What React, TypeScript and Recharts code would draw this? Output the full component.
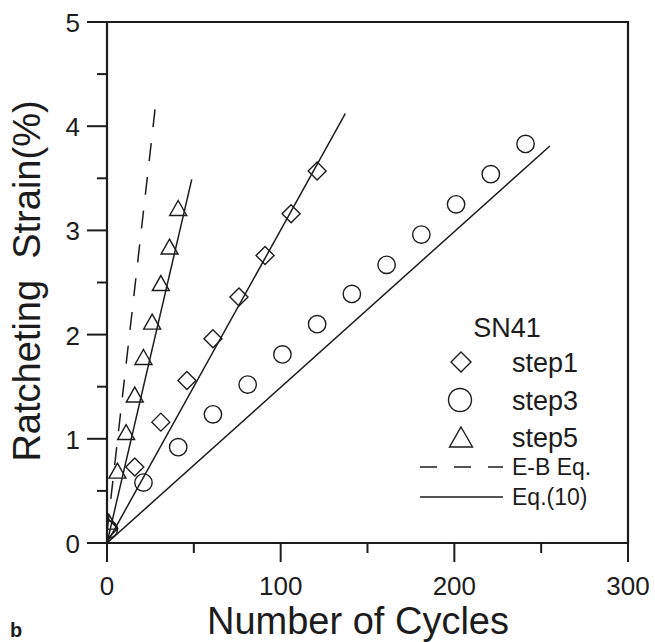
import React from 'react';
import { ComposedChart, XAxis, YAxis, Line, Scatter, Legend, ReferenceArea } from 'recharts';

// ---- data ----
const step1Cycles = [1, 16, 31, 46, 61, 76, 91, 106, 121];
const step1Strain = [0.14, 0.73, 1.16, 1.56, 1.96, 2.36, 2.76, 3.16, 3.57];

const step3Cycles = [1, 21, 41, 61, 81, 101, 121, 141, 161, 181, 201, 221, 241];
const step3Strain = [0.13, 0.58, 0.92, 1.235, 1.52, 1.81, 2.1, 2.39, 2.67, 2.96, 3.25, 3.54, 3.83];

const step5Cycles = [1, 6, 11, 16, 21, 26, 31, 36, 41];
const step5Strain = [0.2, 0.69, 1.06, 1.42, 1.78, 2.12, 2.49, 2.84, 3.21];

const ebCycles = [0, 28.6];
const ebStrain = [0.1, 4.3];
const eq10Step5Cycles = [0, 48.8];
const eq10Step5Strain = [0, 3.49];
const eq10Step1Cycles = [0, 137.2];
const eq10Step1Strain = [0, 4.12];
const eq10Step3Cycles = [0, 255];
const eq10Step3Strain = [0, 3.81];

const xTicks = [0, 50, 100, 150, 200, 250, 300];
const xMajorTicks = [0, 100, 200, 300];
const yTicks = [0, 0.5, 1, 1.5, 2, 2.5, 3, 3.5, 4, 4.5, 5];
const yMajorTicks = [0, 1, 2, 3, 4, 5];

const xTitle = 'Number of Cycles';
const yTitle = 'Ratcheting  Strain(%)';
const legendTitle = 'SN41';
const markerNames = ['step1', 'step3', 'step5'];
const lineNames = ['E-B Eq.', 'Eq.(10)'];
const panelLetter = 'b';

const zip = (xs: number[], ys: number[]) => xs.map((x, i) => ({ x, y: ys[i] }));

const step1Data = zip(step1Cycles, step1Strain);
const step3Data = zip(step3Cycles, step3Strain);
const step5Data = zip(step5Cycles, step5Strain);
const ebData = zip(ebCycles, ebStrain);
const eq5Data = zip(eq10Step5Cycles, eq10Step5Strain);
const eq1Data = zip(eq10Step1Cycles, eq10Step1Strain);
const eq3Data = zip(eq10Step3Cycles, eq10Step3Strain);

// ---- styles ----
const FONT = '"Liberation Sans", Arial, Helvetica, sans-serif';
const INK = '#1c1c1c';

const Diamond = (props: any) => {
  const { cx, cy } = props;
  const h = 9;
  return (
    <path
      d={`M${cx},${cy - h}L${cx + h},${cy}L${cx},${cy + h}L${cx - h},${cy}Z`}
      fill="none"
      stroke={INK}
      strokeWidth={1.4}
    />
  );
};

const Circ = (props: any) => {
  const { cx, cy } = props;
  return <circle cx={cx} cy={cy} r={8.7} fill="none" stroke={INK} strokeWidth={1.4} />;
};

const Tri = (props: any) => {
  const { cx, cy } = props;
  return (
    <path
      d={`M${cx},${cy - 8}L${cx + 8.5},${cy + 7}L${cx - 8.5},${cy + 7}Z`}
      fill="none"
      stroke={INK}
      strokeWidth={1.4}
    />
  );
};

const XTick = (props: any) => {
  const { x, y, payload } = props;
  const major = xMajorTicks.includes(payload.value);
  return (
    <g>
      <line x1={x} x2={x} y1={y} y2={y + (major ? 19 : 10)} stroke={INK} strokeWidth={2} />
      {major && (
        <text x={x} y={y + 52} textAnchor="middle" fontFamily={FONT} fontSize={26} fill={INK}>
          {payload.value}
        </text>
      )}
    </g>
  );
};

const YTick = (props: any) => {
  const { x, y, payload } = props;
  const major = yMajorTicks.includes(payload.value);
  return (
    <g>
      <line x1={x - (major ? 20 : 10)} x2={x} y1={y} y2={y} stroke={INK} strokeWidth={2} />
      {major && (
        <text x={x - 27} y={y + 10} textAnchor="end" fontFamily={FONT} fontSize={26} fill={INK}>
          {payload.value}
        </text>
      )}
    </g>
  );
};

const XTitle = (props: any) => {
  const vb = props.viewBox || { x: 107, y: 543, width: 521, height: 99 };
  return (
    <text
      x={vb.x + vb.width / 2 - 9.5}
      y={vb.y + 91}
      textAnchor="middle"
      fontFamily={FONT}
      fontSize={38}
      fill={INK}
    >
      {xTitle}
    </text>
  );
};

const YTitle = (props: any) => {
  const vb = props.viewBox || { x: 0, y: 22, width: 107, height: 521 };
  const cx = vb.x + 26.5;
  const cy = vb.y + vb.height / 2 - 1.5;
  return (
    <text
      x={cx}
      y={cy}
      dy="0.355em"
      transform={`rotate(-90 ${cx} ${cy})`}
      textAnchor="middle"
      fontFamily={FONT}
      fontSize={38}
      fill={INK}
      style={{ whiteSpace: 'pre' }}
    >
      {yTitle}
    </text>
  );
};

const LegendBox = () => {
  const markerX = 61;
  const textX = 112;
  const rows = [62, 100, 137];
  const lineRows = [167, 197];
  return (
    <svg width={240} height={220} style={{ display: 'block', overflow: 'visible' }}>
      <text x={107} y={37} textAnchor="middle" fontFamily={FONT} fontSize={27} fill={INK}>
        {legendTitle}
      </text>
      <path
        d={`M${markerX},${rows[0] - 10}L${markerX + 10},${rows[0]}L${markerX},${rows[0] + 10}L${markerX - 10},${rows[0]}Z`}
        fill="none"
        stroke={INK}
        strokeWidth={1.4}
      />
      <circle cx={markerX - 1} cy={rows[1]} r={11.5} fill="none" stroke={INK} strokeWidth={1.4} />
      <path
        d={`M${markerX},${rows[2] - 10}L${markerX + 11.5},${rows[2] + 10}L${markerX - 11.5},${rows[2] + 10}Z`}
        fill="none"
        stroke={INK}
        strokeWidth={1.4}
      />
      {markerNames.map((n, i) => (
        <text key={n} x={textX} y={rows[i] + 9.6} fontFamily={FONT} fontSize={27} fill={INK}>
          {n}
        </text>
      ))}
      <line x1={20} x2={103} y1={lineRows[0]} y2={lineRows[0]} stroke={INK} strokeWidth={1.5} strokeDasharray="17 17" />
      <line x1={20} x2={103} y1={lineRows[1]} y2={lineRows[1]} stroke={INK} strokeWidth={1.5} />
      {lineNames.map((n, i) => (
        <text key={n} x={textX} y={lineRows[i] + 8.2} fontFamily={FONT} fontSize={23} fill={INK}>
          {n}
        </text>
      ))}
    </svg>
  );
};

export default function App() {
  return (
    <div
      style={{
        position: 'absolute',
        left: 0,
        top: 0,
        width: 655,
        height: 642,
        overflow: 'hidden',
        background: '#fff',
      }}
    >
      <ComposedChart width={655} height={642} margin={{ top: 22, right: 27, bottom: 0, left: 0 }}>
        <XAxis
          type="number"
          dataKey="x"
          domain={[0, 300]}
          ticks={xTicks}
          interval={0}
          height={99}
          tickSize={0}
          tickMargin={0}
          tickLine={false}
          tick={<XTick />}
          axisLine={{ stroke: INK, strokeWidth: 2 }}
          allowDataOverflow
          label={<XTitle />}
        />
        <YAxis
          type="number"
          dataKey="y"
          domain={[0, 5]}
          ticks={yTicks}
          interval={0}
          width={107}
          tickSize={0}
          tickMargin={0}
          tickLine={false}
          tick={<YTick />}
          axisLine={{ stroke: INK, strokeWidth: 2 }}
          allowDataOverflow
          label={<YTitle />}
        />
        <ReferenceArea x1={0} x2={300} y1={0} y2={5} fill="none" stroke={INK} strokeWidth={2.2} fillOpacity={0} />
        <Line data={ebData} dataKey="y" type="linear" stroke={INK} strokeWidth={1.5} strokeDasharray="18 16" dot={false} activeDot={false} isAnimationActive={false} legendType="none" />
        <Line data={eq5Data} dataKey="y" type="linear" stroke={INK} strokeWidth={1.5} dot={false} activeDot={false} isAnimationActive={false} legendType="none" />
        <Line data={eq1Data} dataKey="y" type="linear" stroke={INK} strokeWidth={1.5} dot={false} activeDot={false} isAnimationActive={false} legendType="none" />
        <Line data={eq3Data} dataKey="y" type="linear" stroke={INK} strokeWidth={1.5} dot={false} activeDot={false} isAnimationActive={false} legendType="none" />
        <Scatter data={step1Data} dataKey="y" shape={<Diamond />} isAnimationActive={false} />
        <Scatter data={step3Data} dataKey="y" shape={<Circ />} isAnimationActive={false} />
        <Scatter data={step5Data} dataKey="y" shape={<Tri />} isAnimationActive={false} />
        <Legend
          layout="vertical"
          align="center"
          verticalAlign="middle"
          wrapperStyle={{ position: 'absolute', left: 400, top: 300, width: 240, height: 220 }}
          content={() => <LegendBox />}
        />
      </ComposedChart>
      <div
        style={{
          position: 'absolute',
          left: 10,
          top: 620,
          fontFamily: FONT,
          fontWeight: 'bold',
          fontSize: 20,
          lineHeight: '20px',
          color: INK,
        }}
      >
        {panelLetter}
      </div>
    </div>
  );
}
